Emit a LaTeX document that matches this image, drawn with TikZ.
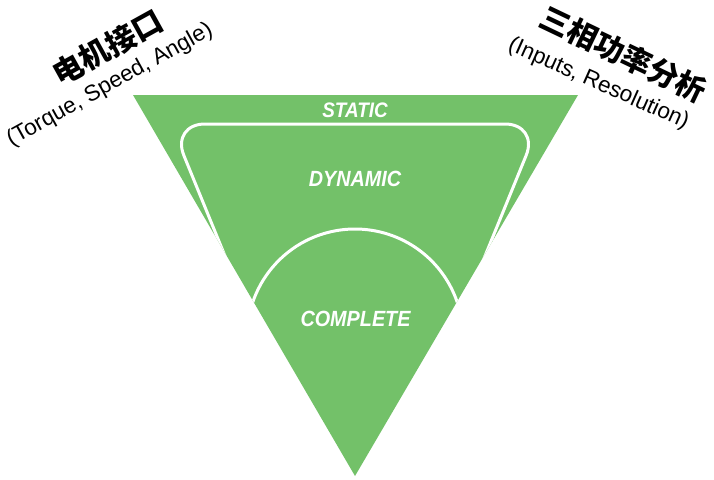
\documentclass[tikz,border=0pt]{standalone}
\usepackage{fontspec}
\setmainfont{Liberation Sans}
\newfontfamily\cjkfont{Noto Sans CJK SC}
\newfontfamily\labfont[FakeStretch=0.9]{Liberation Sans}
\definecolor{tri}{HTML}{73C169}
\tikzset{
  level/.style={text=white, inner sep=0pt, font=\labfont\bfseries\itshape\fontsize{#1}{#1}\selectfont},
  title/.style={inner sep=0pt, font=\cjkfont\bfseries\fontsize{30}{30}\selectfont},
  subtitle/.style={inner sep=0pt, font=\fontsize{22.5}{22.5}\selectfont},
  outline/.style={draw=white, line width=3pt}
}
\begin{document}
\begin{tikzpicture}[x=1pt,y=-1pt]
\useasboundingbox (0,0) rectangle (714,479);
\coordinate (TL) at (133,95);
\coordinate (TR) at (578,95);
\coordinate (B) at (355,476);
\fill[tri] (TL) -- (TR) -- (B) -- cycle;
\begin{scope}
  \clip (TL) -- (TR) -- (B) -- cycle;
  \coordinate (dl) at (243,300);
  \coordinate (dtl) at (171,124);
  \coordinate (dtr) at (539,124);
  \coordinate (dr) at (467,300);
  \draw[outline, rounded corners=34pt] (dl) -- (dtl) -- (dtr) -- (dr);
  \coordinate (cc) at (355,337);
  \draw[outline] (cc) ++(170:108) arc[start angle=170, end angle=370, radius=108];
\end{scope}
\node[level=21] (static) at (355,110) {STATIC};
\node[level=22] (dynamic) at (355,178.5) {DYNAMIC};
\node[level=22] (complete) at (355.5,318.5) {COMPLETE};
\node[title, rotate=29] (lt) at (107.5,47.5) {电机接口};
\node[subtitle, rotate=29] (ls) at (110,85) {(Torque, Speed, Angle)};
\node[title, rotate=-25.5] (rt) at (623.5,54) {三相功率分析};
\node[subtitle, rotate=-24] (rs) at (598.5,84) {(Inputs, Resolution)};
\end{tikzpicture}
\end{document}
